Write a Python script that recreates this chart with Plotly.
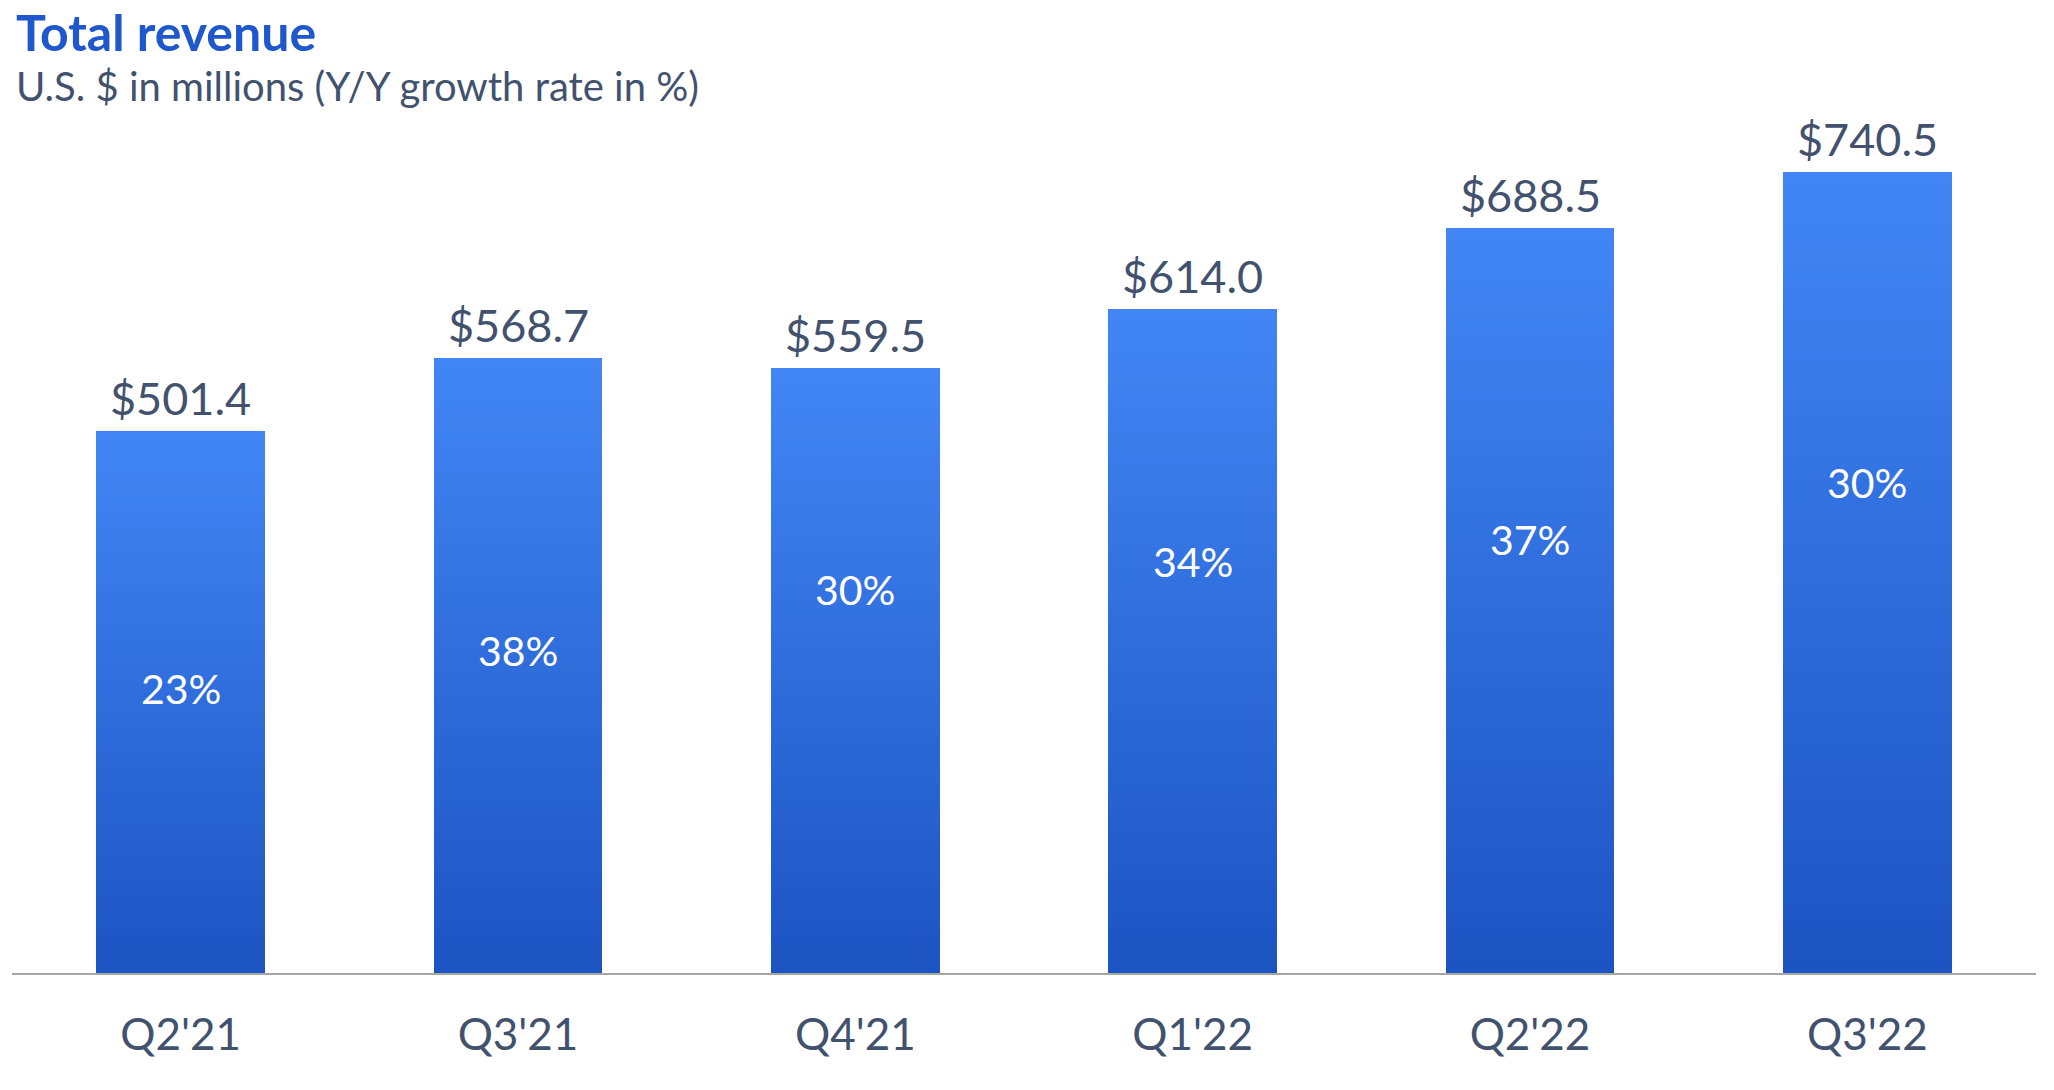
import plotly.graph_objects as go

# ---- data ----
quarters = ["Q2'21", "Q3'21", "Q4'21", "Q1'22", "Q2'22", "Q3'22"]
revenue = [501.4, 568.7, 559.5, 614.0, 688.5, 740.5]
growth = [23, 38, 30, 34, 37, 30]

# ---- layout helpers (label placement as fraction of bar height) ----
growth_label_frac = [0.524, 0.525, 0.633, 0.619, 0.582, 0.612]

TOP = (66, 134, 245)
BOTTOM = (28, 84, 194)
N_SEG = 60
TEXT = "#42526E"
FONT = "Lato"


def mix(t):
    r = [round(BOTTOM[i] + (TOP[i] - BOTTOM[i]) * t) for i in range(3)]
    return f"rgb({r[0]},{r[1]},{r[2]})"


fig = go.Figure()
for k in range(N_SEG):
    fig.add_trace(go.Bar(
        x=quarters,
        y=[v / N_SEG for v in revenue],
        marker=dict(color=mix((k + 0.5) / N_SEG), line=dict(width=0)),
        hoverinfo="skip",
        showlegend=False,
    ))

for q, v in zip(quarters, revenue):
    fig.add_annotation(x=q, y=v, text=f"${v:.1f}", showarrow=False,
                       yanchor="bottom", yshift=4,
                       font=dict(family=FONT, size=45, color=TEXT))

for q, v, g, f in zip(quarters, revenue, growth, growth_label_frac):
    fig.add_annotation(x=q, y=v * f, text=f"{g}%", showarrow=False,
                       yanchor="middle",
                       font=dict(family=FONT, size=41, color="white"))

fig.add_annotation(xref="paper", yref="paper", x=0, y=1, xanchor="left", yanchor="top",
                   text="<b>Total revenue</b>", showarrow=False,
                   xshift=2, yshift=100,
                   font=dict(family=FONT, size=50, color="#1F57CC"))
fig.add_annotation(xref="paper", yref="paper", x=0, y=1, xanchor="left", yanchor="top",
                   text="U.S. $ in millions (Y/Y growth rate in %)", showarrow=False,
                   xshift=2, yshift=40,
                   font=dict(family=FONT, size=40, color=TEXT))

fig.update_layout(
    width=2054, height=1090, autosize=False,
    margin=dict(l=12, r=18, t=100, b=117),
    barmode="stack", bargap=0.5,
    plot_bgcolor="white", paper_bgcolor="white",
    font=dict(family=FONT, color=TEXT),
    hovermode=False,
    xaxis=dict(showline=True, linecolor="#A6A6A6", linewidth=2,
               showgrid=False, zeroline=False, ticks="",
               ticklabelstandoff=22,
               tickfont=dict(family=FONT, size=44, color=TEXT)),
    yaxis=dict(visible=False, range=[0, 807.2], showgrid=False, zeroline=False),
)

fig.write_html("out.html",
               config={"displayModeBar": False},
               post_script="document.body.style.margin='0';document.body.style.overflow='hidden';")
